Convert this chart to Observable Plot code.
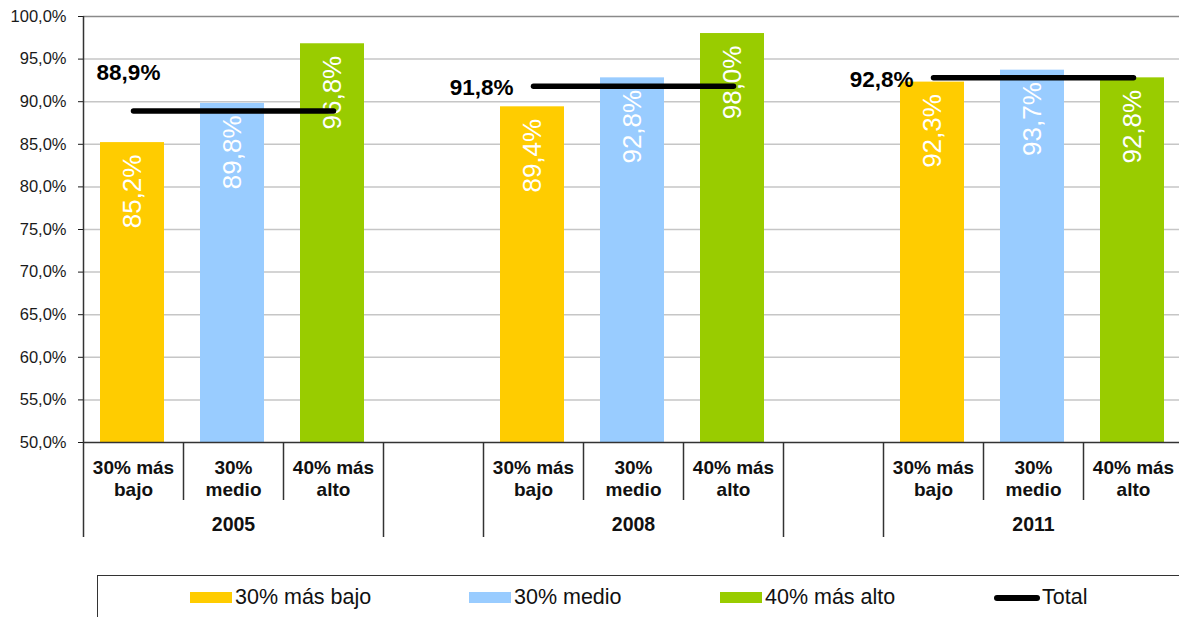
<!DOCTYPE html>
<html>
<head>
<meta charset="utf-8">
<script src="https://cdn.jsdelivr.net/npm/d3@7"></script>
<script src="https://cdn.jsdelivr.net/npm/@observablehq/plot@0.6"></script>
<style>
  html, body { margin: 0; padding: 0; background: #fff; overflow: hidden; }
  body { font-family: "Liberation Sans", Arial, sans-serif; width: 1179px; height: 617px; }
  #legend {
    margin-left: 97px; margin-top: 10px; width: 1200px; height: 60px;
    border-top: 1.5px solid #333; border-left: 1.5px solid #333;
    box-sizing: border-box; display: flex; align-items: center;
    padding-left: 92px; padding-bottom: 16px; font-size: 21.5px; color: #111;
  }
  .item { display: flex; align-items: center; white-space: nowrap; }
  .sw { width: 42px; height: 11px; margin-right: 3px; }
  .ln { width: 46px; height: 6px; border-radius: 3px; background: #000; margin-right: 2px; }
</style>
</head>
<body>
<div id="chart"></div>
<div id="legend"></div>
<script>
const years = ["2005", "2008", "2011"];
const groups = ["30% más bajo", "30% medio", "40% más alto"];
const groupLabels = ["30% más\nbajo", "30%\nmedio", "40% más\nalto"];
const groupColors = ["#FFCC00", "#99CCFF", "#99CC00"];
const values2005 = [85.2, 89.8, 96.8];
const values2008 = [89.4, 92.8, 98.0];
const values2011 = [92.3, 93.7, 92.8];
const totals = [88.9, 91.8, 92.8];
const yDomain = [50, 100];
const yTicks = [50, 55, 60, 65, 70, 75, 80, 85, 90, 95, 100];
const totalLabel = "Total";

const seriesByYear = [values2005, values2008, values2011];
const fmt = v => v.toFixed(1).replace(".", ",") + "%";
const FONT = "Liberation Sans, Arial, sans-serif";

// slots: 3 bars per year + an empty slot between years
const slots = [];
const slotInfo = [];
years.forEach((yr, i) => {
  groups.forEach((g, j) => {
    const key = yr + "|" + g;
    slots.push(key);
    slotInfo.push({slot: key, year: yr, group: g, label: groupLabels[j], pos: j, gap: false});
  });
  if (i < years.length - 1) {
    const key = "gap" + i;
    slots.push(key);
    slotInfo.push({slot: key, year: null, group: null, label: "", pos: -1, gap: true});
  }
});

const bars = [];
years.forEach((yr, i) => groups.forEach((g, j) => bars.push({slot: yr + "|" + g, year: yr, group: g, value: seriesByYear[i][j]})));

const totalLine = [];
years.forEach((yr, i) => {
  totalLine.push({slot: yr + "|" + groups[0], year: yr, value: totals[i]});
  totalLine.push({slot: yr + "|" + groups[2], year: yr, value: totals[i]});
});
const totalLabels = years.map((yr, i) => ({slot: yr + "|" + groups[0], year: yr, value: totals[i]}));

const plotH = 565, mTop = 16, axisY = 442;
const innerH = axisY - mTop;

const chart = Plot.plot({
  width: 1179,
  height: plotH,
  marginLeft: 83,
  marginRight: 0,
  marginTop: mTop,
  marginBottom: plotH - axisY,
  style: {fontFamily: FONT, fontSize: "16.5px", color: "#1a1a1a", background: "#fff"},
  x: {type: "band", domain: slots, range: [83, 1183], padding: 0, axis: null},
  y: {domain: yDomain, ticks: yTicks, tickFormat: fmt, tickSize: 5, tickPadding: 12, label: null},
  color: {domain: groups, range: groupColors},
  marks: [
    Plot.ruleY(yTicks.filter(t => t > yDomain[0] && t < yDomain[1]), {stroke: "#c6c6c6", strokeWidth: 1.5}),
    Plot.ruleY([yDomain[1]], {stroke: "#8a8a8a", strokeWidth: 1.5}),
    Plot.barY(bars, {x: "slot", y1: yDomain[0], y2: "value", fill: "group", insetLeft: 17, insetRight: 19}),
    Plot.text(bars, {x: "slot", y: "value", text: d => fmt(d.value), rotate: -90, textAnchor: "end",
      dx: -1, dy: 12, fill: "white", fontSize: 26, fontFamily: FONT}),
    Plot.ruleY([yDomain[0]], {stroke: "#333", strokeWidth: 1.5}),
    // y axis line (extends down through category labels)
    Plot.ruleX([slots[0]], {x: d => d, dx: -50, stroke: "#333", strokeWidth: 1.5, insetBottom: -95}),
    // tall separators (group boundaries)
    Plot.ruleX(slotInfo.filter((d, k) => k > 0 && (d.gap || d.pos === 0)), {x: "slot", dx: -50, stroke: "#333", strokeWidth: 1.5, insetTop: innerH, insetBottom: -95}),
    // short separators (inside groups)
    Plot.ruleX(slotInfo.filter(d => d.pos > 0), {x: "slot", dx: -50, stroke: "#333", strokeWidth: 1.5, insetTop: innerH, insetBottom: -58}),
    // total lines
    Plot.line(totalLine, {x: "slot", y: "value", z: "year", stroke: "#000", strokeWidth: 5.5, strokeLinecap: "round"}),
    Plot.text(totalLabels.filter(d => d.year === years[0]), {x: "slot", y: "value", text: d => fmt(d.value),
      dx: -5, dy: -38, textAnchor: "middle", fontWeight: "bold", fontSize: 22.5, fill: "#000", fontFamily: FONT}),
    Plot.text(totalLabels.filter(d => d.year !== years[0]), {x: "slot", y: "value", text: d => fmt(d.value),
      dx: -20, dy: 1.5, textAnchor: "end", fontWeight: "bold", fontSize: 22.5, fill: "#000", fontFamily: FONT}),
    // category labels
    Plot.text(slotInfo.filter(d => !d.gap), {x: "slot", text: "label", frameAnchor: "bottom", lineAnchor: "top",
      dy: 16, lineHeight: 1.16, fontWeight: "bold", fontSize: 19, fill: "#111", fontFamily: FONT}),
    // year labels
    Plot.text(slotInfo.filter(d => d.pos === 1), {x: "slot", text: "year", frameAnchor: "bottom", lineAnchor: "top",
      dy: 75, fontWeight: "bold", fontSize: 19.5, fill: "#111", fontFamily: FONT})
  ]
});
document.getElementById("chart").appendChild(chart);

// legend (item left edges as in the reference)
const legend = document.getElementById("legend");
const itemWidths = [279, 251, 274];
groups.forEach((g, j) => {
  const it = document.createElement("div");
  it.className = "item";
  it.style.width = itemWidths[j] + "px";
  it.innerHTML = `<span class="sw" style="background:${groupColors[j]}"></span><span>${g}</span>`;
  legend.appendChild(it);
});
const tot = document.createElement("div");
tot.className = "item";
tot.innerHTML = `<span class="ln"></span><span>${totalLabel}</span>`;
legend.appendChild(tot);
</script>
</body>
</html>
